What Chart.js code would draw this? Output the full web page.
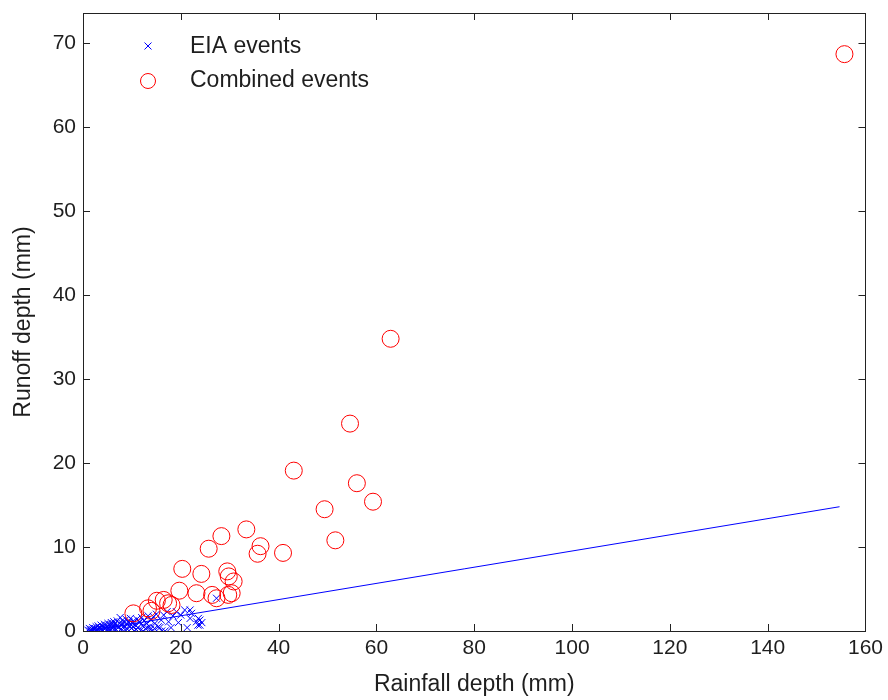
<!DOCTYPE html>
<html>
<head>
<meta charset="utf-8">
<script src="https://cdn.jsdelivr.net/npm/chart.js@4.4.0/dist/chart.umd.min.js"></script>
<style>
  html, body { margin: 0; padding: 0; background: #fff; }
</style>
</head>
<body>
<canvas id="grafico" width="888" height="700"></canvas>
<script>
// EIA events (rainfall mm, runoff mm)
const eiaRain = [1.0, 1.3, 1.5, 1.8, 2.0, 2.1, 2.4, 2.6, 2.7, 3.0, 3.1, 3.3, 3.5, 3.7, 3.9, 4.0, 4.2, 4.4, 4.6, 4.8,
  5.0, 5.1, 5.3, 5.5, 5.6, 5.8, 6.0, 6.2, 6.3, 6.5, 6.7, 6.9, 7.0, 7.2, 7.4, 7.6, 7.7, 7.9, 8.1, 8.3,
  8.4, 8.6, 8.8, 9.0, 9.1, 9.3, 9.5, 9.7, 9.9, 10.1, 10.3, 10.5, 10.7, 11.0, 11.2, 11.5, 11.8, 12.0, 12.2, 12.5,
  12.8, 13.0, 13.3, 13.6, 13.9, 14.2, 14.4, 14.7, 15.0, 15.4, 15.7, 16.0, 16.1, 16.5, 16.8, 17.2, 17.5, 18.0, 18.4, 19.1,
  19.5, 20.0, 20.8, 21.3, 21.9, 21.9, 22.2, 23.2, 23.5, 23.6, 23.9, 23.9, 24.3, 27.3,
  1.7, 2.3, 2.9, 3.4, 4.1, 4.7, 5.4, 5.9, 6.6, 7.3, 8.0, 8.7, 9.4, 10.2, 10.9, 11.6, 12.3, 13.1, 13.8, 14.6];
const eiaRunoff = [0.1, 0.3, 0.0, 0.2, 0.4, 0.1, 0.3, 0.0, 0.5, 0.2, 0.6, 0.05, 0.4, 0.7, 0.2, 0.0, 0.5, 0.8, 0.3, 0.1,
  0.6, 0.9, 0.4, 0.0, 0.7, 1.0, 0.3, 0.5, 1.1, 0.8, 0.1, 0.6, 1.2, 0.4, 0.9, 1.6, 0.2, 0.7, 1.3, 0.0,
  1.0, 0.5, 1.4, 0.8, 0.2, 1.1, 0.6, 1.5, 0.3, 0.9, 1.2, 0.0, 0.7, 1.4, 0.4, 1.0, 0.1, 1.6, 0.6, 1.2,
  0.3, 0.9, 1.8, 0.5, 1.3, 0.0, 1.7, 0.9, 2.0, 0.5, 0.4, 1.3, 0.0, 1.9, 0.0, 2.3, 1.1, 0.4, 1.8, 2.3,
  1.0, 1.9, 2.5, 0.4, 1.5, 2.5, 2.1, 1.1, 0.7, 1.5, 1.3, 0.7, 1.0, 3.9,
  0.0, 0.2, 0.1, 0.3, 0.1, 0.4, 0.2, 0.8, 0.3, 0.5, 0.9, 0.1, 1.0, 0.5, 0.2, 1.1, 0.0, 0.4, 0.2, 0.3];

// Combined events
const combRain = [155.7, 62.9, 54.6, 43.1, 56.0, 59.3, 49.4, 51.6, 33.4, 28.3, 25.7, 36.3, 35.7, 40.9,
  20.3, 24.2, 29.5, 29.8, 30.8, 19.7, 23.2, 26.4, 27.3, 29.7, 30.4, 15.1, 16.5, 17.4, 18.1, 13.3, 10.3, 14.0];
const combRunoff = [68.7, 34.8, 24.7, 19.1, 17.6, 15.4, 14.5, 10.8, 12.1, 11.3, 9.8, 10.1, 9.2, 9.3,
  7.4, 6.8, 7.1, 6.5, 5.9, 4.8, 4.5, 4.3, 3.9, 4.3, 4.5, 3.6, 3.7, 3.3, 3.1, 2.7, 2.1, 2.4];

// fitted EIA line
const fitRain = [1.2, 154.7];
const fitRunoff = [0, 14.8];

const xTicks = [0, 20, 40, 60, 80, 100, 120, 140, 160];
const yTicks = [0, 10, 20, 30, 40, 50, 60, 70];

const textColor = '#1e1e1e';
const fontFam = '"Liberation Sans", Arial, sans-serif';

function pares(xs, ys) {
  return xs.map((x, i) => ({ x: x, y: ys[i] }));
}

// box + inward ticks on all four sides, plus legend inside the axes
const ejesMatlab = {
  id: 'ejesMatlab',
  afterDraw(chart) {
    const ctx = chart.ctx;
    const a = chart.chartArea;
    const sx = chart.scales.x, sy = chart.scales.y;
    const len = 7;
    ctx.save();
    ctx.strokeStyle = '#222';
    ctx.lineWidth = 1;
    ctx.strokeRect(Math.round(a.left) + 0.5, Math.round(a.top) + 0.5,
      Math.round(a.right - a.left), Math.round(a.bottom - a.top));
    ctx.beginPath();
    xTicks.forEach(v => {
      const px = Math.round(sx.getPixelForValue(v)) + 0.5;
      ctx.moveTo(px, a.bottom); ctx.lineTo(px, a.bottom - len);
      ctx.moveTo(px, a.top); ctx.lineTo(px, a.top + len);
    });
    yTicks.forEach(v => {
      const py = Math.round(sy.getPixelForValue(v)) + 0.5;
      ctx.moveTo(a.left, py); ctx.lineTo(a.left + len, py);
      ctx.moveTo(a.right, py); ctx.lineTo(a.right - len, py);
    });
    ctx.stroke();

    // legend (no box)
    const ds = chart.data.datasets;
    ctx.font = '23px ' + fontFam;
    ctx.fillStyle = textColor;
    ctx.textBaseline = 'middle';
    ctx.textAlign = 'left';
    const filas = [{ d: ds[0], y: 47 }, { d: ds[1], y: 81 }];
    filas.forEach(f => {
      ctx.strokeStyle = f.d.borderColor;
      ctx.lineWidth = 1;
      if (f.d.pointStyle === 'crossRot') {
        ctx.beginPath();
        ctx.moveTo(144.5, 42.5); ctx.lineTo(151.5, 49.5);
        ctx.moveTo(151.5, 42.5); ctx.lineTo(144.5, 49.5);
        ctx.stroke();
      } else {
        ctx.beginPath();
        ctx.arc(148, f.y, 7.5, 0, Math.PI * 2);
        ctx.stroke();
      }
      ctx.fillText(f.d.label, 190, f.y);
    });
    ctx.restore();
  }
};

const chart = new Chart(document.getElementById('grafico'), {
  type: 'scatter',
  data: {
    datasets: [
      {
        label: 'EIA events',
        data: pares(eiaRain, eiaRunoff),
        pointStyle: 'crossRot',
        pointRadius: 5,
        borderColor: '#0000ff',
        backgroundColor: '#0000ff',
        borderWidth: 1,
        order: 2
      },
      {
        label: 'Combined events',
        data: pares(combRain, combRunoff),
        pointStyle: 'circle',
        pointRadius: 8.5,
        borderColor: '#ff0000',
        backgroundColor: 'rgba(0,0,0,0)',
        borderWidth: 1,
        order: 1
      },
      {
        label: 'fit',
        data: pares(fitRain, fitRunoff),
        showLine: true,
        pointRadius: 0,
        borderColor: '#0000ff',
        borderWidth: 1,
        order: 0
      }
    ]
  },
  options: {
    responsive: false,
    animation: false,
    events: [],
    layout: { padding: { top: 13, right: 22, left: 0, bottom: 0 } },
    plugins: {
      legend: { display: false },
      tooltip: { enabled: false }
    },
    scales: {
      x: {
        type: 'linear',
        min: 0,
        max: 160,
        afterBuildTicks: s => { s.ticks = xTicks.map(v => ({ value: v })); },
        afterFit: s => { s.height = 69; },
        grid: { display: false, drawTicks: false },
        border: { display: false },
        ticks: { color: textColor, font: { family: fontFam, size: 21 }, padding: 5, maxRotation: 0 },
        title: {
          display: true,
          text: 'Rainfall depth (mm)',
          color: textColor,
          font: { family: fontFam, size: 23 },
          padding: { top: 0, bottom: 2 }
        }
      },
      y: {
        type: 'linear',
        min: 0,
        max: 73.6,
        afterBuildTicks: s => { s.ticks = yTicks.map(v => ({ value: v })); },
        afterFit: s => { s.width = 83; s.paddingTop = 0; s.paddingBottom = 0; },
        grid: { display: false, drawTicks: false },
        border: { display: false },
        ticks: { color: textColor, font: { family: fontFam, size: 21 }, padding: 7 },
        title: {
          display: true,
          text: 'Runoff depth (mm)',
          color: textColor,
          font: { family: fontFam, size: 23 },
          padding: { top: 10, bottom: 0 }
        }
      }
    }
  },
  plugins: [ejesMatlab]
});
</script>
</body>
</html>
